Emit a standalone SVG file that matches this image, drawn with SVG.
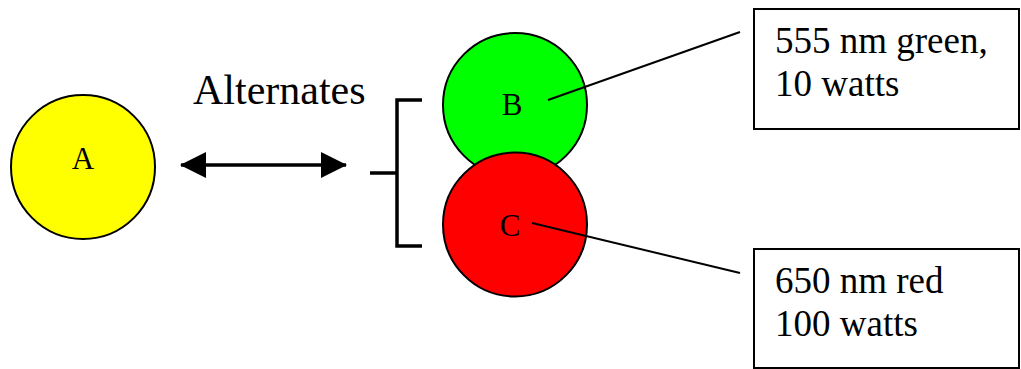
<svg xmlns="http://www.w3.org/2000/svg" width="1021" height="369" viewBox="0 0 1021 369">
  <style>
    .lamp { stroke: #000; stroke-width: 2; }
    .label { font-family: "Liberation Serif", "Times New Roman", serif; fill: #000; }
    .letter { font-size: 31px; text-anchor: middle; }
    .note { font-size: 37px; }
    .box { fill: #fff; stroke: #000; stroke-width: 2; }
    .wire { stroke: #000; stroke-width: 2; fill: none; }
    .bracket { stroke: #000; stroke-width: 3.5; fill: none; }
  </style>
  <defs>
    <marker id="head" viewBox="0 0 26 26" refX="25" refY="13" markerWidth="26" markerHeight="26" markerUnits="userSpaceOnUse" orient="auto-start-reverse">
      <path d="M0,0 L26,13 L0,26 Z" fill="#000"/>
    </marker>
  </defs>

  <g id="node-a">
    <circle class="lamp" cx="83" cy="167" r="72" fill="#ffff00"/>
    <text class="label letter" x="83" y="169">A</text>
  </g>

  <g id="node-b">
    <circle class="lamp" cx="515" cy="105" r="72" fill="#00ff00"/>
    <text class="label letter" x="512" y="115">B</text>
  </g>

  <g id="node-c">
    <circle class="lamp" cx="515" cy="224.5" r="72" fill="#ff0000"/>
    <text class="label letter" x="510" y="236">C</text>
  </g>

  <g id="alternates-label">
    <text class="label" x="193" y="104" font-size="42">Alternates</text>
  </g>

  <g id="note-green">
    <rect class="box" x="754" y="9" width="265" height="120"/>
    <text class="label note" x="775" y="53">555 nm green,</text>
    <text class="label note" x="775" y="96">10 watts</text>
  </g>

  <g id="note-red">
    <rect class="box" x="754" y="249" width="265" height="119"/>
    <text class="label note" x="775" y="293">650 nm red</text>
    <text class="label note" x="775" y="336">100 watts</text>
  </g>

  <g id="connectors">
    <!-- two-way arrow between A and the B/C pair -->
    <line x1="181" y1="165" x2="346" y2="165" stroke="#000" stroke-width="3.5" marker-start="url(#head)" marker-end="url(#head)"/>
    <!-- bracket grouping B and C -->
    <path class="bracket" d="M422,100 H397 V246 H422 M370,173 H397"/>
    <!-- leader lines to the notes -->
    <line class="wire" x1="548" y1="100" x2="740" y2="32"/>
    <line class="wire" x1="532" y1="223" x2="740" y2="273"/>
  </g>
</svg>
